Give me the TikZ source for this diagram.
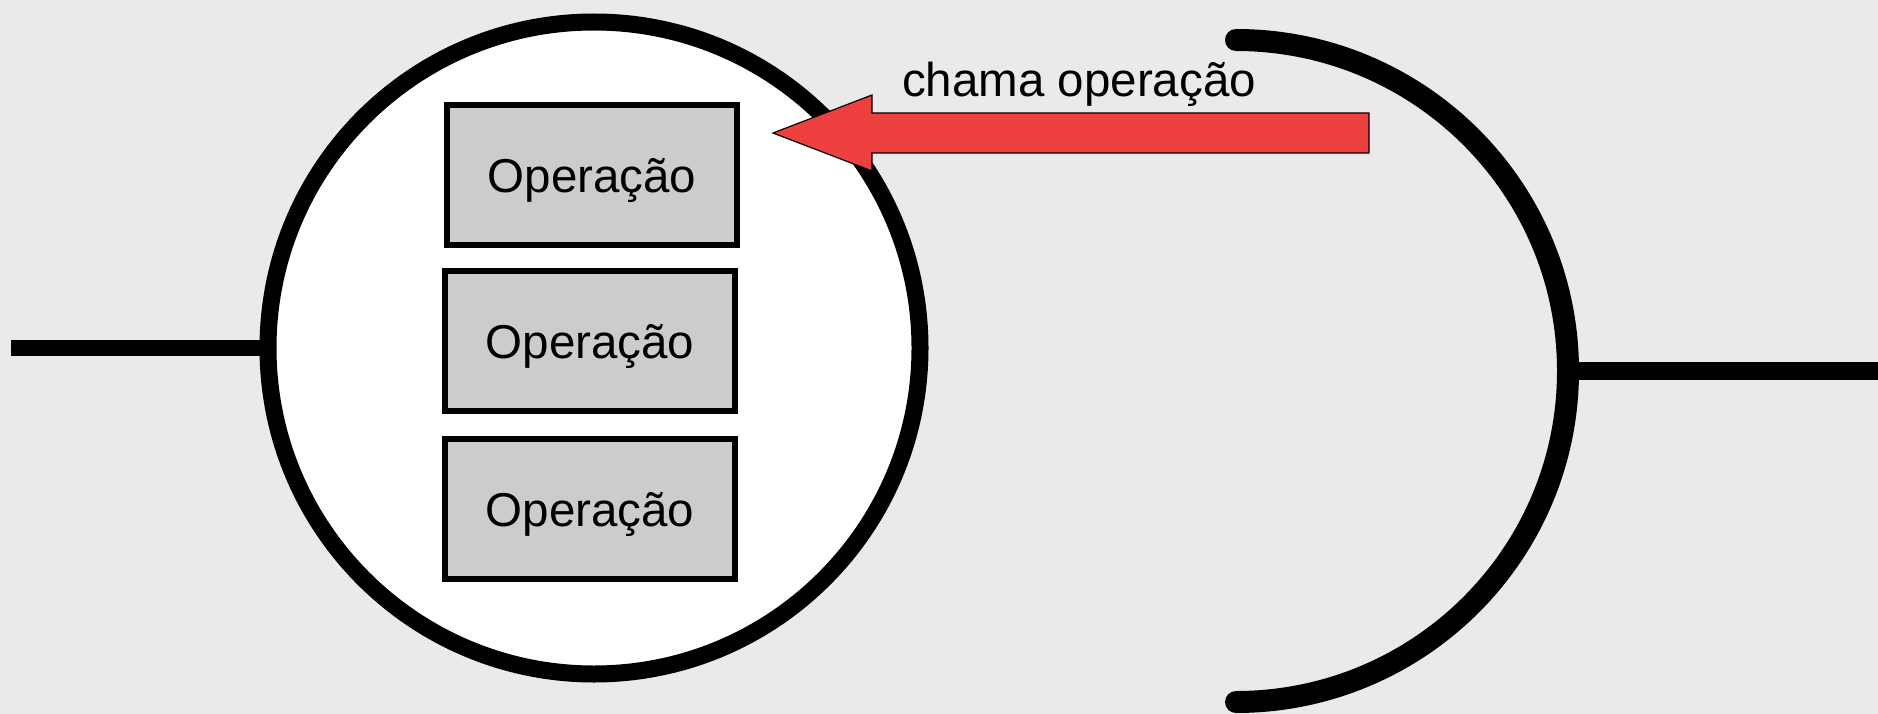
\documentclass[tikz,border=0pt]{standalone}
\usepackage{fontspec}
\setmainfont{Liberation Sans}
\usetikzlibrary{positioning}
\usepackage{xcolor}
\definecolor{mbg}{HTML}{EBE9E9}
\definecolor{mgray}{HTML}{CCCCCC}
\definecolor{mred}{HTML}{EF4040}
\tikzstyle{obj}=[circle, draw=black, fill=white, minimum size=652pt, line width=17pt, inner sep=0pt]
\tikzstyle{op}=[rectangle, draw=black, fill=mgray, minimum width=290pt, minimum height=140pt, line width=6pt, inner sep=0pt, text depth=0pt]
\tikzstyle{l1}=[line width=16pt]
\tikzstyle{l2}=[line width=22pt, line cap=round]
\tikzstyle{l3}=[line width=18pt]
\tikzstyle{seta}=[draw=black, fill=mred, line width=1.2pt, line join=miter]

\begin{document}
\begin{tikzpicture}[x=1pt, y=-1pt, font=\fontsize{47.5}{57}\selectfont]
    \fill[mbg] (0,0) rectangle (1878,714);
    \useasboundingbox (0,0) rectangle (1878,714);

    \node[obj] at (594,348) (obj) {};
    \coordinate (lend) at (11,348);
    \draw[l1] (lend) -- (obj.west);

    \node[op] at (592,175) (op1) {Operação};
    \node[op] at (590,341) (op2) {Operação};
    \node[op] at (590,509) (op3) {Operação};

    % chamador
    \draw[l2] (1236,40) arc[start angle=-90, end angle=90, x radius=332, y radius=331];
    \coordinate (arcR) at (1568,371);
    \coordinate (rend) at (1878,371);
    \draw[l3] (arcR) -- (rend);

    \draw[seta] (1369,113) -- (872,113) -- (872,95) -- (773,133) -- (872,171) -- (872,153) -- (1369,153) -- cycle;
    \node[anchor=base] at (1079,97) (lbl) {chama operação};

\end{tikzpicture}
\end{document}
